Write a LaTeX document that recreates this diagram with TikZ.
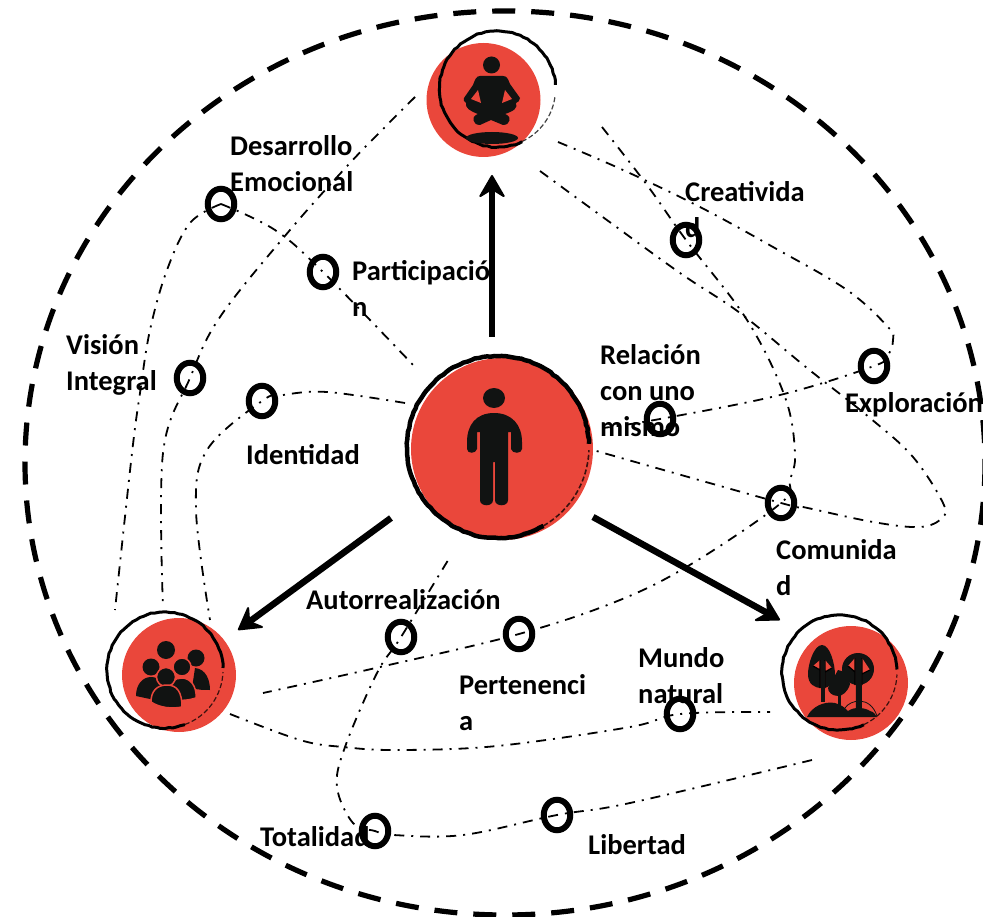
\documentclass[tikz,border=0pt]{standalone}
\usepackage{fontspec}
\setmainfont{Carlito}
\usetikzlibrary{arrows.meta,decorations.pathmorphing,shapes.geometric}
\definecolor{disc}{HTML}{EA473B}
\definecolor{ink}{HTML}{111312}
\tikzset{
  lbl/.style={font=\fontsize{28.5}{36}\selectfont\bfseries,text=black,align=left,anchor=north west,inner sep=0pt},
  ring/.style={ellipse,draw=black,line width=6pt,minimum width=26.5pt,minimum height=30.5pt,inner sep=0pt},
  flow/.style={line width=1.8pt,dash pattern=on 10pt off 7pt on 2pt off 7pt,black},
  big/.style={line width=6.5pt,black,-{Stealth[length=25pt,width=29pt,inset=9pt,round,line width=2pt]}},
  disc/.style={circle,fill=disc,inner sep=0pt},
  brush/.style={black,line width=3pt,decorate,decoration={random steps,segment length=4pt,amplitude=.5pt}},
  thinbrush/.style={black,line width=1.2pt,dash pattern=on 5pt off 2.5pt,opacity=.75},
  icon/.style={fill=ink,draw=none},
  cut/.style={draw=disc,line width=1.5pt,fill=ink}
}
\begin{document}
\begin{tikzpicture}[x=1pt,y=-1pt]
\useasboundingbox (0,0) rectangle (983,917);
\begin{scope}
\clip (0,0) rectangle (983,917);
\draw[black,line width=5.2pt,dash pattern=on 23pt off 16pt] (505,463) ellipse [x radius=480,y radius=452];
\end{scope}

% discs
\node[disc,minimum size=114pt] (top) at (483.5,100) {};
\node[disc,minimum size=182pt] (me) at (502,449) {};
\node[disc,minimum size=114pt] (grp) at (179,675) {};
\node[disc,minimum size=114pt] (nat) at (851,683) {};

% free ends
\coordinate (a1) at (415,97);
\coordinate (a2) at (163,608);
\coordinate (b2) at (115,610);
\coordinate (c1) at (405,403);
\coordinate (c2) at (210,620);
\coordinate (d1) at (540,171);
\coordinate (d2) at (593,450);
\coordinate (e1) at (558,142);
\coordinate (e2) at (603,428);
\coordinate (f1) at (602,127);
\coordinate (f2) at (263,693);
\coordinate (g1) at (230,714);
\coordinate (g2) at (770,712);
\coordinate (h1) at (812,760);
\coordinate (h2) at (450,557);
\coordinate (i2) at (416,368);

% rings
\node[ring] (rDes) at (221,204) {};
\node[ring] (rPar) at (323,272) {};
\node[ring] (rVis) at (190,378) {};
\node[ring] (rIde) at (262,401) {};
\node[ring] (rCre) at (686,240) {};
\node[ring] (rExp) at (874,366) {};
\node[ring] (rRel) at (660,419) {};
\node[ring] (rCom) at (781,503) {};
\node[ring] (rAut) at (401,637) {};
\node[ring] (rPer) at (519,634) {};
\node[ring] (rMun) at (680,714) {};
\node[ring] (rTot) at (375,831) {};
\node[ring] (rLib) at (557,815) {};

% connectors
\draw[flow] plot[smooth,tension=.6] coordinates {(a1) (387,125) (350,163) (290,230) (220,317) (rVis.center) (163,453) (a2)};
\draw[flow] plot[smooth,tension=.6] coordinates {(rDes.center) (190,223) (167,270) (150,330) (140,393) (132,453) (b2)};
\draw[flow] plot[smooth,tension=.6] coordinates {(rDes.center) (275,230) (rPar.center) (i2)};
\draw[flow] plot[smooth,tension=.6] coordinates {(c1) (327,392) (283,395) (rIde.center) (207,450) (196,510) (c2)};
\draw[flow] plot[smooth,tension=.6] coordinates {(d1) (600,215) (680,273) (740,313) (807,368) (870,418) (913,457) (943,503) (942,518) (920,527) (873,522) (803,507) (rCom.center) (d2)};
\draw[flow] plot[smooth,tension=.6] coordinates {(e1) (623,170) (700,207) (773,247) (847,290) (888,327) (893,340) (888,355) (rExp.center) (780,395) (rRel.center) (e2)};
\draw[flow] plot[smooth,tension=.6] coordinates {(f1) (647,185) (rCre.center) (747,320) (785,397) (795,453) (790,480) (rCom.center) (693,563) (620,600) (rPer.center) (380,667) (f2)};
\draw[flow] plot[smooth,tension=.6] coordinates {(g1) (300,740) (343,747) (397,750) (497,746) (630,727) (rMun.center) (g2)};
\draw[flow] plot[smooth,tension=.6] coordinates {(h1) (630,803) (rLib.center) (463,835) (393,835) (rTot.center) (353,823) (337,787) (345,747) (377,673) (rAut.center) (h2)};

% arrows
\coordinate (t1) at (492,337);
\coordinate (t2) at (492,175);
\coordinate (l1) at (391,518);
\coordinate (l2) at (238,630);
\coordinate (r1) at (593,517);
\coordinate (r2) at (780,620);
\draw[big] (t1) -- (t2);
\draw[big] (l1) -- (l2);
\draw[big] (r1) -- (r2);

% brush circles
\coordinate (cTop) at (497.5,89);
\coordinate (cMe) at (498,447);
\coordinate (cGrp) at (165,670);
\coordinate (cNat) at (839.5,672.5);
\draw[brush] ([shift={(-4:58)}]cTop) arc[start angle=-4,end angle=-295,radius=58];
\draw[thinbrush] ([shift={(-295:58)}]cTop) arc[start angle=-295,end angle=-352,radius=58];
\draw[brush,line width=4.5pt] ([shift={(-2:91)}]cMe) arc[start angle=-2,end angle=-300,radius=91];
\draw[thinbrush,line width=1.6pt] ([shift={(-300:91)}]cMe) arc[start angle=-300,end angle=-358,radius=91];
\draw[brush] ([shift={(-2:58)}]cGrp) arc[start angle=-2,end angle=-290,radius=58];
\draw[thinbrush] ([shift={(-290:58)}]cGrp) arc[start angle=-290,end angle=-358,radius=58];
\draw[brush] ([shift={(-3:57.5)}]cNat) arc[start angle=-3,end angle=-295,radius=57.5];
\draw[thinbrush] ([shift={(-295:57.5)}]cNat) arc[start angle=-295,end angle=-358,radius=57.5];

% meditating figure
\fill[icon] (491.5,65) circle (8.5);
\fill[icon] (480,76) -- (503,76) .. controls (507,76) and (508,79) .. (510,84) -- (520,98) .. controls (520,101) and (518,102) .. (516,103) .. controls (518,108) and (514,111) .. (505,114) -- (507,115) .. controls (511,116) and (511,125) .. (503,125) -- (491,120) -- (480,125) .. controls (472,125) and (472,116) .. (476,115) -- (478,114) .. controls (470,111) and (465,108) .. (466,103) .. controls (464,102) and (463,100) .. (464,98) -- (473,85) .. controls (475,80) and (476,76) .. (480,76) -- cycle;
\fill[disc] (478,90) -- (481,103) -- (471,99) -- cycle;
\fill[disc] (505,90) -- (502,103) -- (512,99) -- cycle;
\fill[icon] (492,138) ellipse [x radius=26,y radius=6];

% central figure
\fill[icon] (494,398) ellipse [x radius=11,y radius=10];
\fill[icon] (494,413) .. controls (476,413) and (467,425) .. (467,442) -- (467,449) .. controls (467,454) and (476,454) .. (477,449) -- (477,432) -- (480,432) -- (480,500) .. controls (480,507) and (493,507) .. (493,500) -- (493,462) -- (495,462) -- (495,500) .. controls (495,507) and (508,507) .. (508,500) -- (508,432) -- (511,432) -- (511,449) .. controls (512,454) and (522,454) .. (522,449) -- (522,442) .. controls (522,425) and (512,413) .. (494,413) -- cycle;

% people
\fill[icon] (196,658) circle (8.5);
\fill[icon] (195,668) .. controls (206,669) and (210,680) .. (210,690) .. controls (204,690) and (198,690) .. (192,688) -- cycle;
\fill[icon] (166,650) circle (9);
\fill[icon] (151,667) circle (8.5);
\fill[icon] (136,696) .. controls (136,684) and (143,677) .. (151,677) .. controls (160,677) and (165,684) .. (165,700) -- (150,699) -- cycle;
\draw[cut] (182,667) circle (9);
\draw[cut] (169,690) .. controls (169,682) and (175,678) .. (182,678) .. controls (190,678) and (197,686) .. (196,698) .. controls (190,700) and (182,701) .. (172,700) -- cycle;
\draw[cut] (166,677) circle (9.5);
\draw[cut] (151,702) .. controls (151,691) and (157,685) .. (167,685) .. controls (177,685) and (182,692) .. (182,707) .. controls (172,709) and (160,708) .. (151,702) -- cycle;

% trees
\fill[icon] (838,670) .. controls (845,670) and (849,678) .. (850,684) .. controls (848,692) and (842,696) .. (838,696) .. controls (832,696) and (828,692) .. (828,688) -- cycle;
\fill[icon] (838,690) rectangle (841,708);
\fill[icon] (822,645) .. controls (830,645) and (835,664) .. (835,675) .. controls (835,684) and (829,688) .. (822,688) .. controls (814,688) and (808,684) .. (808,674) .. controls (808,664) and (814,645) .. (822,645) -- cycle;
\fill[icon] (858,669) circle (16);
\draw[disc,line width=1.3pt] (820,660) -- (820,670) -- (813,666) (825,660) -- (825,672) -- (832,668) (820,670) -- (820,688) (825,672) -- (825,688);
\draw[disc,line width=1.3pt] (855,658) -- (855,672) -- (848,666) (862,658) -- (862,674) -- (870,670) (855,672) -- (855,685) (862,674) -- (862,685);
\fill[icon] (820.5,661) -- (824.5,661) -- (824.5,702) -- (820.5,702) -- cycle;
\fill[icon] (855.5,659) -- (861.5,659) -- (862,712) -- (856,712) -- cycle;
\fill[icon] (807,717) .. controls (812,706) and (825,701) .. (835,703) .. controls (842,705) and (845,708) .. (848,711) .. controls (855,706) and (866,708) .. (870,711) .. controls (874,712) and (875,714) .. (877,717) -- cycle;
\draw[ink,line width=.8pt] (845,708) .. controls (850,700) and (870,695) .. (877,716);

% labels
\node[lbl] (tDes) at (230,135) {Desarrollo\\Emocional};
\node[lbl] (tPar) at (352,260) {Participació\\n};
\node[lbl] (tVis) at (66,334) {Visión\\Integral};
\node[lbl] (tIde) at (246,444) {Identidad};
\node[lbl] (tCre) at (685,181) {Creativida\\d};
\node[lbl] (tRel) at (600,344) {Relación\\con uno\\mismo};
\node[lbl] (tExp) at (845,392) {Exploración};
\node[lbl] (tCom) at (776,539) {Comunida\\d};
\node[lbl] (tAut) at (306,589) {Autorrealización};
\node[lbl] (tPer) at (459,674) {Pertenenci\\a};
\node[lbl] (tMun) at (638,647) {Mundo\\natural};
\node[lbl] (tTot) at (260,826) {Totalidad};
\node[lbl] (tLib) at (588,834) {Libertad};
\end{tikzpicture}
\end{document}
